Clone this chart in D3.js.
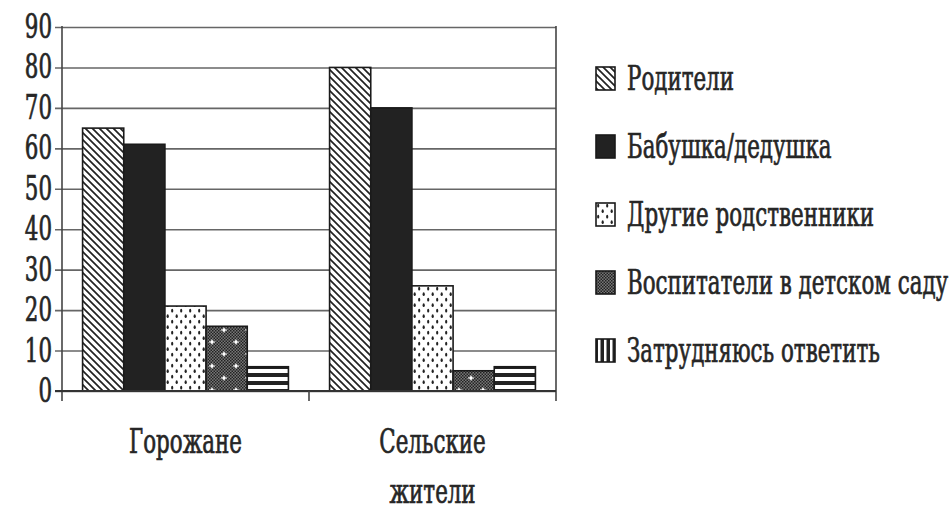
<!DOCTYPE html>
<html>
<head>
<meta charset="utf-8">
<script src="https://cdn.jsdelivr.net/npm/d3@7"></script>
<style>
body { margin: 0; background: #fff; }
text { font-family: "DejaVu Serif Condensed", "DejaVu Serif", serif; fill: #262626; stroke: #262626; stroke-width: 0.7; }
</style>
</head>
<body>
<div id="chart"></div>
<script>
var w = 951, h = 507;

var categories = [["Горожане"], ["Сельские", "жители"]];
var series = ["Родители", "Бабушка/дедушка", "Другие родственники", "Воспитатели в детском саду", "Затрудняюсь ответить"];
var cityValues = [65, 61, 21, 16, 6];
var ruralValues = [80, 70, 26, 5, 6];
var yTicks = [0, 10, 20, 30, 40, 50, 60, 70, 80, 90];

var values = [cityValues, ruralValues];

var mLeft = 62, mRight = 556, mTop = 27, mBottom = 391;
var sx = 0.72; // condensed type
var fs = 33;

var svg = d3.select("#chart").append("svg").attr("width", w).attr("height", h);
var defs = svg.append("defs");

// patterns
var p1 = defs.append("pattern").attr("id", "diag").attr("patternUnits", "userSpaceOnUse")
  .attr("width", 7).attr("height", 7);
p1.append("rect").attr("width", 7).attr("height", 7).attr("fill", "#fff");
p1.append("path").attr("d", "M-1,-1L8,8M-1,6L1,8M6,-1L8,1").attr("stroke", "#222").attr("stroke-width", 1.7);

var p3 = defs.append("pattern").attr("id", "dots").attr("patternUnits", "userSpaceOnUse")
  .attr("width", 9).attr("height", 11);
p3.append("rect").attr("width", 9).attr("height", 11).attr("fill", "#fff");
p3.append("ellipse").attr("cx", 2.2).attr("cy", 2.7).attr("rx", 1.1).attr("ry", 1.9).attr("fill", "#222");
p3.append("ellipse").attr("cx", 6.7).attr("cy", 8.2).attr("rx", 1.1).attr("ry", 1.9).attr("fill", "#222");

var pc = defs.append("pattern").attr("id", "checker").attr("patternUnits", "userSpaceOnUse")
  .attr("width", 3).attr("height", 3);
pc.append("rect").attr("width", 3).attr("height", 3).attr("fill", "#777");
pc.append("rect").attr("width", 1.5).attr("height", 1.5).attr("fill", "#222");
pc.append("rect").attr("x", 1.5).attr("y", 1.5).attr("width", 1.5).attr("height", 1.5).attr("fill", "#222");

var p4 = defs.append("pattern").attr("id", "cross").attr("patternUnits", "userSpaceOnUse")
  .attr("width", 24).attr("height", 24);
p4.append("rect").attr("width", 24).attr("height", 24).attr("fill", "url(#checker)");
p4.append("path").attr("d", "M6,3L7.5,6L6,9L4.5,6ZM18,15L19.5,18L18,21L16.5,18Z").attr("fill", "#fff");
p4.append("path").attr("d", "M3,6H9M15,18H21").attr("stroke", "#fff").attr("stroke-width", 1);

var p5 = defs.append("pattern").attr("id", "hstripe").attr("patternUnits", "userSpaceOnUse")
  .attr("width", 8).attr("height", 8).attr("y", mBottom);
p5.append("rect").attr("width", 8).attr("height", 8).attr("fill", "#222");
p5.append("rect").attr("y", 2).attr("width", 8).attr("height", 4).attr("fill", "#fff");

var p6 = defs.append("pattern").attr("id", "vstripe").attr("patternUnits", "userSpaceOnUse")
  .attr("width", 6).attr("height", 6);
p6.append("rect").attr("width", 6).attr("height", 6).attr("fill", "#222");
p6.append("rect").attr("x", 2).attr("width", 2.5).attr("height", 6).attr("fill", "#fff");

var barFills = ["url(#diag)", "#222", "url(#dots)", "url(#cross)", "url(#hstripe)"];
var legendFills = ["url(#diag)", "#222", "url(#dots)", "url(#checker)", "url(#vstripe)"];

var y = d3.scaleLinear().domain([0, 90]).range([mBottom, mTop]);
var x0 = d3.scaleBand().domain(d3.range(categories.length)).range([mLeft, mRight]).paddingInner(0).paddingOuter(0);
var x1 = d3.scaleBand().domain(d3.range(series.length)).range([0, x0.bandwidth()]).paddingOuter(0.5).paddingInner(0);

// gridlines
var grid = svg.append("g").attr("transform", "translate(" + mLeft + ",0)")
  .call(d3.axisLeft(y).tickValues(yTicks).tickSize(-(mRight - mLeft)).tickSizeOuter(0).tickFormat(""));
grid.select(".domain").remove();
grid.selectAll(".tick line").attr("stroke", "#666").attr("stroke-width", 1.6)
  .attr("x1", -7);

// y tick labels
svg.selectAll(".ylab").data(yTicks).enter().append("text")
  .attr("class", "ylab")
  .attr("transform", function(d) { return "translate(52," + (y(d) + 11) + ") scale(" + sx + ",1)"; })
  .attr("text-anchor", "end")
  .attr("font-size", fs)
  .text(function(d) { return d; });

// bars
var groups = svg.selectAll(".grp").data(values).enter().append("g")
  .attr("transform", function(d, i) { return "translate(" + x0(i) + ",0)"; });
groups.selectAll("rect").data(function(d) { return d; }).enter().append("rect")
  .attr("x", function(d, i) { return x1(i); })
  .attr("y", function(d) { return y(d); })
  .attr("width", x1.bandwidth())
  .attr("height", function(d) { return mBottom - y(d); })
  .attr("fill", function(d, i) { return barFills[i]; })
  .attr("stroke", "#1a1a1a")
  .attr("stroke-width", 1.6);

// axes
svg.append("line").attr("x1", mLeft).attr("x2", mLeft).attr("y1", mTop - 1).attr("y2", mBottom + 10)
  .attr("stroke", "#444").attr("stroke-width", 1.6);
svg.append("line").attr("x1", mRight).attr("x2", mRight).attr("y1", mTop - 1).attr("y2", mBottom + 10)
  .attr("stroke", "#444").attr("stroke-width", 1.6);
svg.append("line").attr("x1", mLeft - 7).attr("x2", mRight).attr("y1", mBottom).attr("y2", mBottom)
  .attr("stroke", "#333").attr("stroke-width", 1.8);
svg.selectAll(".ctick").data(d3.range(1, categories.length)).enter().append("line")
  .attr("x1", function(d) { return x0(d); }).attr("x2", function(d) { return x0(d); })
  .attr("y1", mBottom).attr("y2", mBottom + 10)
  .attr("stroke", "#444").attr("stroke-width", 1.6);

// category labels
categories.forEach(function(lines, i) {
  lines.forEach(function(t, j) {
    svg.append("text")
      .attr("transform", "translate(" + (x0(i) + x0.bandwidth() / 2) + "," + (453 + j * 50) + ") scale(" + sx + ",1)")
      .attr("text-anchor", "middle")
      .attr("font-size", fs)
      .text(t);
  });
});

// legend
var leg = svg.selectAll(".leg").data(series).enter().append("g")
  .attr("transform", function(d, i) { return "translate(596," + (67 + i * 68) + ")"; });
leg.append("rect").attr("width", 19).attr("height", 23)
  .attr("fill", function(d, i) { return legendFills[i]; })
  .attr("stroke", "#1a1a1a").attr("stroke-width", 1.6);
leg.append("text")
  .attr("transform", "translate(31,23) scale(" + sx + ",1)")
  .attr("font-size", fs)
  .text(function(d) { return d; });
</script>
</body>
</html>
